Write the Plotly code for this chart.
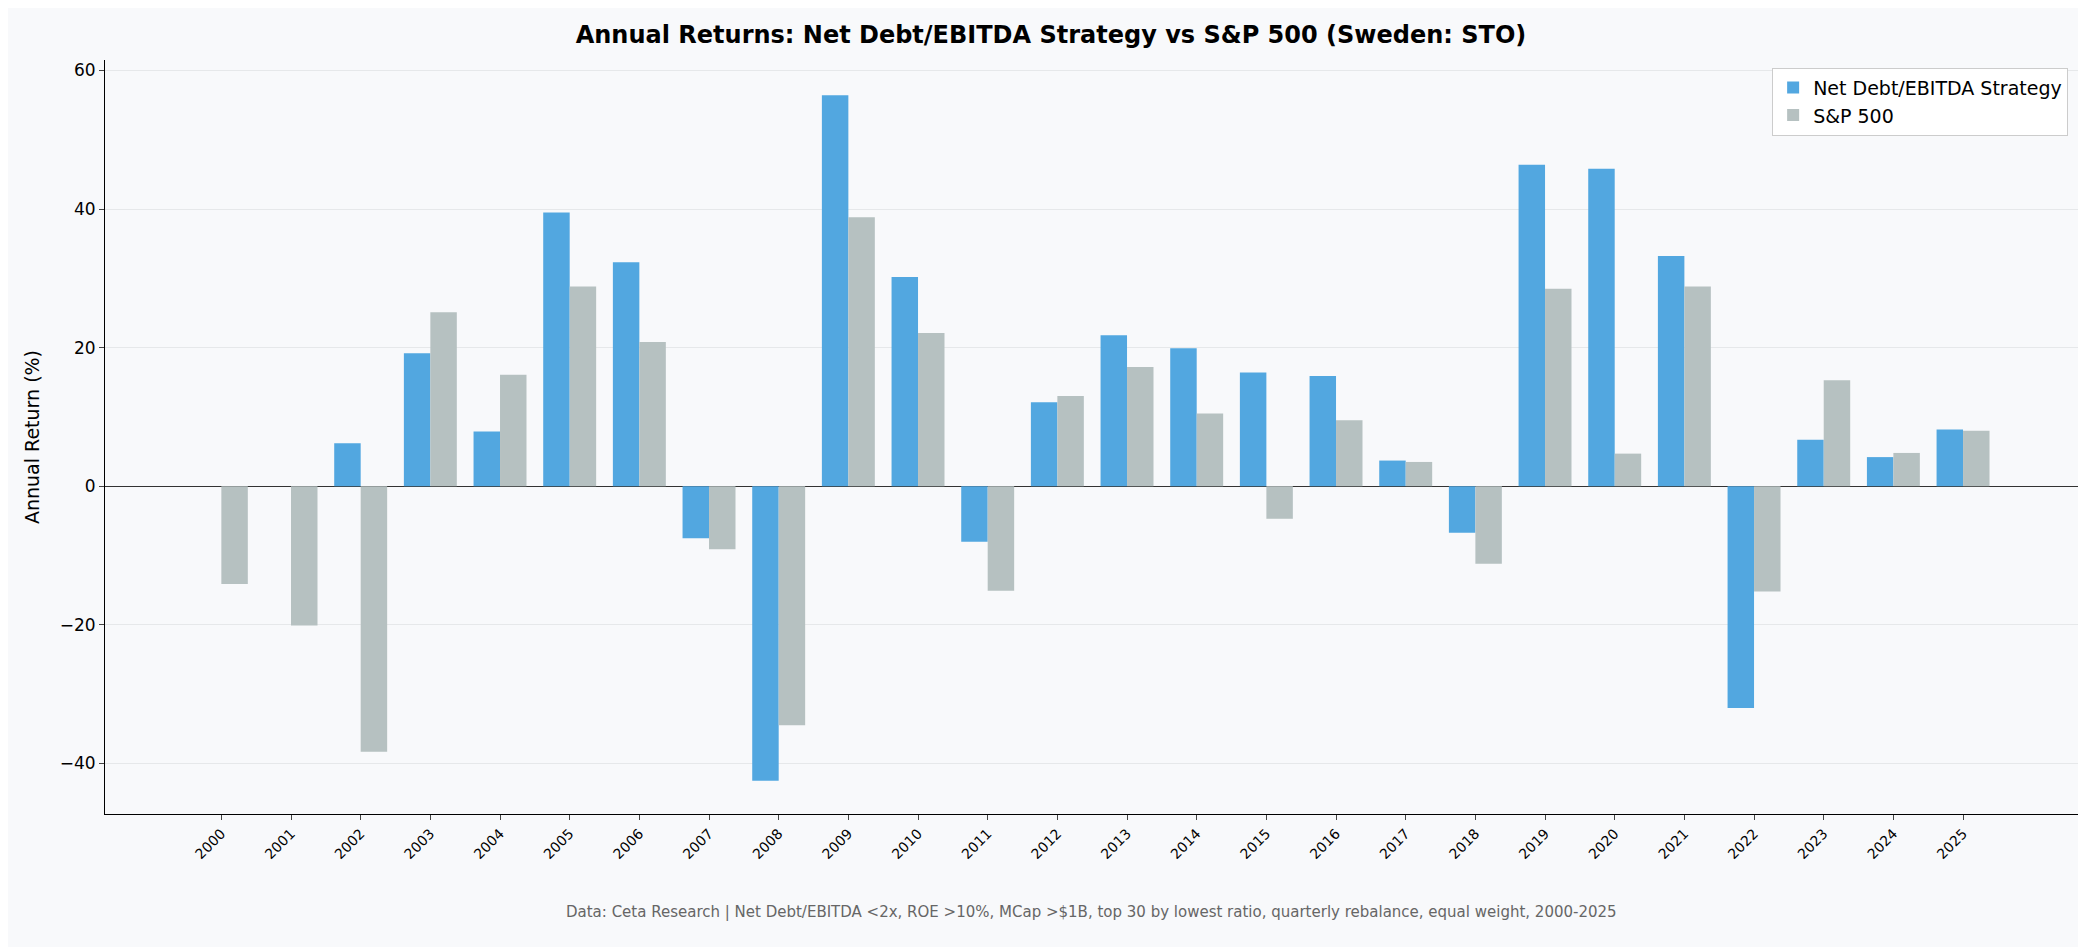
import plotly.graph_objects as go

years = list(range(2000, 2026))
strategy = [None, None, 6.2, 19.2, 7.9, 39.5, 32.3, -7.5, -42.5, 56.4, 30.2, -8.0, 12.1, 21.8, 19.9, 16.4,
            15.9, 3.7, -6.7, 46.4, 45.8, 33.2, -32.0, 6.7, 4.2, 8.2]
sp500 = [-14.1, -20.1, -38.3, 25.1, 16.1, 28.8, 20.8, -9.1, -34.5, 38.8, 22.1, -15.1, 13.0, 17.2, 10.5, -4.7,
         9.5, 3.5, -11.2, 28.5, 4.7, 28.8, -15.2, 15.3, 4.8, 8.0]

fig = go.Figure()
fig.add_bar(x=years, y=strategy, name="Net Debt/EBITDA Strategy", marker_color="#52a7e0", marker_line_width=0)
fig.add_bar(x=years, y=sp500, name="S&P 500", marker_color="#b6c1c1", marker_line_width=0)

fig.update_layout(
    width=2086, height=947, barmode="group", bargap=0.24, bargroupgap=0,
    paper_bgcolor="#f8f9fb", plot_bgcolor="#f8f9fb",
    font=dict(family="DejaVu Sans", color="#000", size=17),
    title=dict(text="<b>Annual Returns: Net Debt/EBITDA Strategy vs S&P 500 (Sweden: STO)</b>",
               x=0.5, xanchor="center", y=0.972, yanchor="middle", font=dict(size=24)),
    margin=dict(l=97, r=16, t=52, b=141),
    legend=dict(x=0.995, y=0.99, xanchor="right", yanchor="top", bgcolor="white",
                bordercolor="#cccccc", borderwidth=1, font=dict(size=19)),
    xaxis=dict(range=[1998.33, 2026.65], tickvals=years, ticktext=[str(y) for y in years],
               tickangle=-45, tickfont=dict(size=14), showgrid=False, ticks="outside",
               ticklen=5, showline=True, linecolor="#000", zeroline=False),
    yaxis=dict(range=[-47.3, 61.5], tickvals=[-40, -20, 0, 20, 40, 60],
               ticktext=["−40", "−20", "0", "20", "40", "60"], tickfont=dict(size=17),
               title=dict(text="Annual Return (%)", font=dict(size=19)),
               showgrid=True, gridcolor="#e6e8ea", ticks="outside", ticklen=5,
               showline=True, linecolor="#000", zeroline=True, zerolinecolor="#333", zerolinewidth=1.3),
)
fig.add_annotation(text="Data: Ceta Research | Net Debt/EBITDA <2x, ROE >10%, MCap >$1B, top 30 by lowest ratio, quarterly rebalance, equal weight, 2000-2025",
                   xref="paper", yref="paper", x=0.5, y=-0.145, showarrow=False,
                   font=dict(size=15, color="#666"))
fig.write_html("out.html")
